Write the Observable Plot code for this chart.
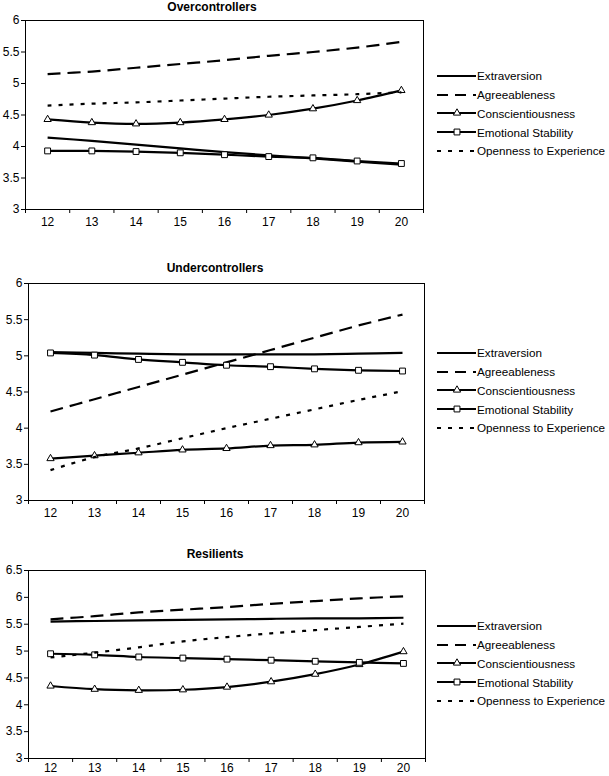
<!DOCTYPE html>
<html><head><meta charset="utf-8">
<script src="https://cdn.jsdelivr.net/npm/d3@7"></script>
<script src="https://cdn.jsdelivr.net/npm/@observablehq/plot@0.6"></script>
<style>
body{margin:0;background:#fff;font-family:"Liberation Sans",Arial,sans-serif;color:#000}
#fig{position:relative;width:609px;height:776px;overflow:hidden;background:#fff}
.panel{position:absolute;left:0}
.title{position:absolute;width:300px;text-align:center;font-weight:bold;font-size:12px;line-height:14px;z-index:2}
.legend{position:absolute;left:437px;z-index:2;font-size:11.7px}
.legend .row{height:18.75px;display:flex;align-items:center;white-space:nowrap}
.legend svg{flex:none;margin-right:0px}
</style></head>
<body><div id="fig"></div>
<script>
// ---- data ----
const ages = [12, 13, 14, 15, 16, 17, 18, 19, 20];
const traits = ["Extraversion", "Agreeableness", "Conscientiousness", "Emotional Stability", "Openness to Experience"];

const overExtraversion      = [4.14, 4.09, 4.03, 3.97, 3.91, 3.86, 3.81, 3.76, 3.71];
const overAgreeableness     = [5.15, 5.19, 5.25, 5.31, 5.37, 5.44, 5.50, 5.57, 5.66];
const overConscientiousness = [4.43, 4.38, 4.36, 4.38, 4.43, 4.50, 4.60, 4.73, 4.89];
const overEmotional         = [3.93, 3.93, 3.92, 3.90, 3.87, 3.84, 3.82, 3.77, 3.73];
const overOpenness          = [4.65, 4.68, 4.70, 4.73, 4.76, 4.79, 4.81, 4.83, 4.86];

const underExtraversion      = [5.05, 5.04, 5.03, 5.02, 5.02, 5.02, 5.02, 5.03, 5.04];
const underAgreeableness     = [4.23, 4.40, 4.57, 4.74, 4.91, 5.08, 5.25, 5.42, 5.57];
const underConscientiousness = [3.58, 3.62, 3.66, 3.70, 3.72, 3.76, 3.77, 3.80, 3.81];
const underEmotional         = [5.04, 5.01, 4.95, 4.91, 4.87, 4.85, 4.82, 4.80, 4.79];
const underOpenness          = [3.42, 3.60, 3.72, 3.86, 4.00, 4.13, 4.26, 4.39, 4.51];

const resExtraversion      = [5.55, 5.56, 5.57, 5.58, 5.59, 5.60, 5.61, 5.61, 5.62];
const resAgreeableness     = [5.59, 5.65, 5.72, 5.77, 5.82, 5.88, 5.93, 5.98, 6.02];
const resConscientiousness = [4.35, 4.29, 4.27, 4.28, 4.33, 4.43, 4.57, 4.75, 4.99];
const resEmotional         = [4.95, 4.93, 4.89, 4.87, 4.85, 4.83, 4.81, 4.79, 4.77];
const resOpenness          = [4.88, 4.97, 5.07, 5.18, 5.26, 5.33, 5.39, 5.45, 5.51];

const overTicks  = [3, 3.5, 4, 4.5, 5, 5.5, 6];
const underTicks = [3, 3.5, 4, 4.5, 5, 5.5, 6];
const resTicks   = [3, 3.5, 4, 4.5, 5, 5.5, 6, 6.5];

// ---- styles per trait ----
const styles = {
  "Extraversion":           {dash: null,    marker: null},
  "Agreeableness":          {dash: "13,7",  marker: null},
  "Conscientiousness":      {dash: null,    marker: "triangle"},
  "Emotional Stability":    {dash: null,    marker: "square"},
  "Openness to Experience": {dash: "4,7",   marker: null}
};
const markerR = {triangle: 2.7, square: 3.3};

const panels = [
  {title: "Overcontrollers", series: [overExtraversion, overAgreeableness, overConscientiousness, overEmotional, overOpenness],
   ticks: overTicks, top: 0, plotH: 189, left: 25, right: 423, titleX: 212, titleY: 0, legendY: 76, pad: 8},
  {title: "Undercontrollers", series: [underExtraversion, underAgreeableness, underConscientiousness, underEmotional, underOpenness],
   ticks: underTicks, top: 263, plotH: 217, left: 28, right: 424, titleX: 215, titleY: 261, legendY: 353, pad: 8},
  {title: "Resilients", series: [resExtraversion, resAgreeableness, resConscientiousness, resEmotional, resOpenness],
   ticks: resTicks, top: 550, plotH: 188, left: 28, right: 425, titleX: 215, titleY: 547, legendY: 626, pad: 5}
];

const fig = document.getElementById("fig");
const boundaries = ages.map(a => a - 0.5).concat([ages[ages.length - 1] + 0.5]);

for (const p of panels) {
  const marks = [
    Plot.frame({stroke: "black", strokeWidth: 1}),
    Plot.axisX({ticks: ages, tickSize: 0, tickPadding: p.pad, tickFormat: d => String(d)}),
    Plot.axisX({ticks: boundaries, tickSize: 4, tickFormat: () => ""}),
    Plot.axisY({ticks: p.ticks, tickSize: 4, tickPadding: 2, tickFormat: d => String(d)})
  ];
  traits.forEach((t, i) => {
    const rows = ages.map((a, j) => ({age: a, value: p.series[i][j], trait: t}));
    const s = styles[t];
    marks.push(Plot.line(rows, {x: "age", y: "value", curve: "catmull-rom", stroke: "black",
      strokeWidth: 2.2, strokeDasharray: s.dash ?? undefined, strokeLinecap: "butt"}));
    if (s.marker) {
      marks.push(Plot.dot(rows, {x: "age", y: "value", symbol: s.marker, r: markerR[s.marker],
        fill: "white", stroke: "black", strokeWidth: 1}));
    }
  });
  const chart = Plot.plot({
    width: 609, height: 20 + p.plotH + 26,
    marginTop: 20, marginBottom: 26, marginLeft: p.left, marginRight: 609 - p.right,
    x: {domain: [boundaries[0], boundaries[boundaries.length - 1]], label: null},
    y: {domain: [p.ticks[0], p.ticks[p.ticks.length - 1]], label: null},
    style: {fontSize: "12px", fontFamily: "'Liberation Sans', Arial, sans-serif", color: "black", background: "transparent"},
    marks
  });
  chart.classList.add("panel");
  chart.style.top = p.top + "px";
  fig.appendChild(chart);

  const title = document.createElement("div");
  title.className = "title";
  title.textContent = p.title;
  title.style.left = (p.titleX - 150) + "px";
  title.style.top = p.titleY + "px";
  fig.appendChild(title);

  const legend = document.createElement("div");
  legend.className = "legend";
  legend.style.top = (p.legendY - 9.4) + "px";
  for (const t of traits) {
    const s = styles[t];
    const row = document.createElement("div");
    row.className = "row";
    const sw = d3.create("svg").attr("width", 40).attr("height", 12);
    sw.append("line").attr("x1", 0).attr("x2", 39).attr("y1", 6).attr("y2", 6)
      .attr("stroke", "black").attr("stroke-width", 2.2)
      .attr("stroke-dasharray", t === "Agreeableness" ? "11,7" : (s.dash ?? null));
    if (s.marker) {
      const sym = s.marker === "triangle" ? d3.symbolTriangle : d3.symbolSquare;
      sw.append("path").attr("transform", "translate(20,6)")
        .attr("d", d3.symbol(sym, Math.PI * markerR[s.marker] ** 2)())
        .attr("fill", "white").attr("stroke", "black").attr("stroke-width", 1);
    }
    row.appendChild(sw.node());
    const span = document.createElement("span");
    span.textContent = t;
    row.appendChild(span);
    legend.appendChild(row);
  }
  fig.appendChild(legend);
}
</script>
</body></html>
